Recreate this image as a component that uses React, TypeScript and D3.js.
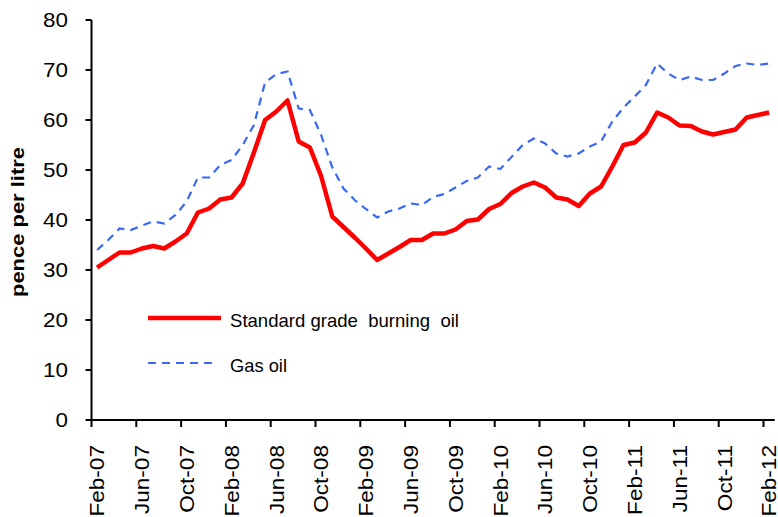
import React, { useEffect, useRef } from "react";
import * as d3 from "d3";

// monthly prices, Feb-07 .. Feb-12 (pence per litre)
const burningOil = [
  30.5, 32.0, 33.5, 33.5, 34.3, 34.8, 34.3, 35.7, 37.3, 41.5, 42.3, 44.1,
  44.5, 47.3, 53.5, 60.0, 61.7, 63.9, 55.7, 54.5, 48.8, 40.7, 38.6, 36.5,
  34.3, 32.0, 33.3, 34.6, 36.0, 36.0, 37.3, 37.3, 38.1, 39.8, 40.1, 42.2,
  43.2, 45.4, 46.7, 47.5, 46.5, 44.5, 44.1, 42.8, 45.3, 46.7, 50.7, 55.0,
  55.5, 57.5, 61.5, 60.5, 58.9, 58.8, 57.7, 57.1, 57.6, 58.1, 60.5, 61.0,
  61.5,
];
const gasOil = [
  34.0, 36.0, 38.3, 38.0, 38.9, 39.7, 39.3, 41.0, 43.7, 48.5, 48.5, 51.0,
  52.0, 55.0, 59.0, 67.5, 69.2, 69.7, 62.3, 62.0, 57.0, 50.5, 46.3, 44.0,
  42.2, 40.5, 41.7, 42.3, 43.3, 43.0, 44.6, 45.2, 46.5, 47.8, 48.5, 50.7,
  50.2, 52.6, 55.0, 56.3, 55.3, 53.3, 52.7, 53.3, 54.7, 55.7, 59.7, 62.5,
  64.7, 67.0, 71.3, 69.3, 68.0, 68.7, 68.0, 68.0, 69.3, 70.8, 71.3, 71.0,
  71.3,
];
const months = d3
  .timeMonth
  .range(new Date(2007, 1, 1), new Date(2012, 2, 1))
  .map(d3.timeFormat("%b-%y"));
const yTicks = [0, 10, 20, 30, 40, 50, 60, 70, 80];

const FONT = "'Liberation Sans', Arial, sans-serif";
const RED = "#ff0000";
const BLUE = "#3a68f2";

export default function App() {
  const svgRef = useRef(null);

  useEffect(() => {
    const svg = d3.select(svgRef.current);
    svg.selectAll("*").remove();

    const x = d3.scaleBand().domain(months).range([91.5, 774.7]);
    const y = d3.scaleLinear().domain([0, 80]).range([420, 20]);
    const bw = x.bandwidth();
    const cx = (i) => x(months[i]) + bw / 2;

    // axes
    svg.append("line")
      .attr("x1", 91.5).attr("x2", 91.5)
      .attr("y1", y(80)).attr("y2", y(0))
      .attr("stroke", "#000").attr("stroke-width", 2);
    svg.append("line")
      .attr("x1", 91.5).attr("x2", 774.7)
      .attr("y1", y(0)).attr("y2", y(0))
      .attr("stroke", "#000").attr("stroke-width", 2);

    yTicks.forEach((t) => {
      svg.append("line")
        .attr("x1", 85.5).attr("x2", 91.5)
        .attr("y1", y(t)).attr("y2", y(t))
        .attr("stroke", "#000").attr("stroke-width", 2);
      svg.append("text")
        .attr("transform", `translate(68,${y(t)}) scale(1.12,1)`)
        .attr("dy", "0.36em")
        .attr("text-anchor", "end")
        .style("font-family", FONT)
        .style("font-size", "20px")
        .text(t);
    });

    months.forEach((m, i) => {
      if (i % 4 !== 0) return;
      svg.append("line")
        .attr("x1", x(m)).attr("x2", x(m))
        .attr("y1", y(0)).attr("y2", y(0) + 7)
        .attr("stroke", "#000").attr("stroke-width", 2);
      svg.append("text")
        .attr("transform", `translate(${cx(i)},445) rotate(-90) scale(1.13,1)`)
        .attr("dy", "0.36em")
        .attr("text-anchor", "end")
        .style("font-family", FONT)
        .style("font-size", "20px")
        .text(m);
    });

    svg.append("text")
      .attr("transform", "translate(24,222) rotate(-90)")
      .attr("text-anchor", "middle")
      .attr("textLength", 150)
      .attr("lengthAdjust", "spacingAndGlyphs")
      .style("font-family", FONT)
      .style("font-size", "18px")
      .style("font-weight", "bold")
      .text("pence per litre");

    // lines
    const line = d3.line()
      .x((d, i) => cx(i))
      .y((d) => y(d));

    svg.append("path")
      .datum(gasOil)
      .attr("fill", "none")
      .attr("stroke", BLUE)
      .attr("stroke-width", 2.2)
      .attr("stroke-dasharray", "8,6")
      .attr("d", line);

    svg.append("path")
      .datum(burningOil)
      .attr("fill", "none")
      .attr("stroke", RED)
      .attr("stroke-width", 4.5)
      .attr("stroke-linejoin", "round")
      .attr("d", line);

    // legend
    const legend = svg.append("g");
    legend.append("line")
      .attr("x1", 148).attr("x2", 221)
      .attr("y1", 318).attr("y2", 318)
      .attr("stroke", RED).attr("stroke-width", 4.5);
    legend.append("text")
      .attr("x", 230).attr("y", 327)
      .attr("textLength", 229)
      .attr("lengthAdjust", "spacingAndGlyphs")
      .style("font-family", FONT)
      .style("font-size", "19px")
      .style("white-space", "pre")
      .text("Standard grade  burning  oil");
    legend.append("line")
      .attr("x1", 148).attr("x2", 216)
      .attr("y1", 363).attr("y2", 363)
      .attr("stroke", BLUE).attr("stroke-width", 2.2)
      .attr("stroke-dasharray", "8,6");
    legend.append("text")
      .attr("x", 230).attr("y", 372)
      .attr("textLength", 57)
      .attr("lengthAdjust", "spacingAndGlyphs")
      .style("font-family", FONT)
      .style("font-size", "19px")
      .text("Gas oil");
  }, []);

  return (
    <svg
      ref={svgRef}
      width={778}
      height={517}
      style={{ position: "absolute", left: 0, top: 0, background: "#fff" }}
    />
  );
}
